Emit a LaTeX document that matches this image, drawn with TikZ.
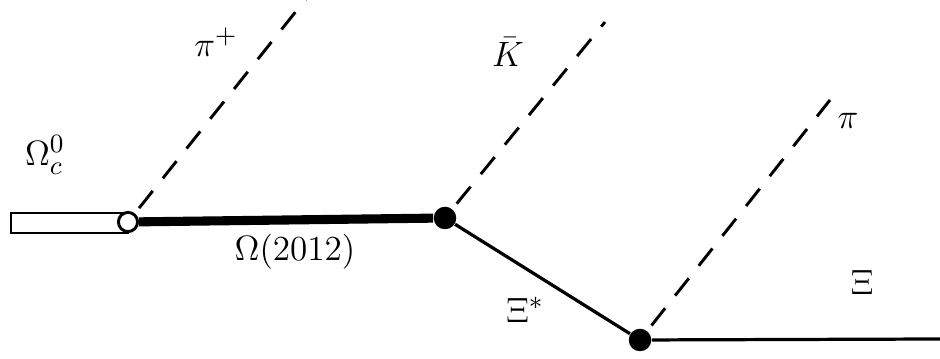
\documentclass[tikz,border=0pt]{standalone}
\usetikzlibrary{positioning}
\tikzset{
  vertex/.style={circle,fill=black,inner sep=0pt,minimum size=0.27cm},
  hollow/.style={circle,draw=black,fill=white,line width=1pt,inner sep=0pt,minimum size=0.23cm},
  heavy/.style={line width=3.1pt},
  prop/.style={line width=1.1pt},
  scalar/.style={line width=1pt,dash pattern=on 7.5pt off 5.5pt,shorten <=0.08cm}
}
\begin{document}
\begin{tikzpicture}[x=0.012cm,y=-0.012cm,font=\fontsize{12.5}{15}\selectfont]
  \useasboundingbox (0,0) rectangle (940,359);
  % charmed baryon line
  \draw[line width=1pt] (11,213) rectangle (128,233);
  % vertices
  \node[hollow] (vc) at (128,222) {};
  \node[vertex] (vk) at (445,218) {};
  \node[vertex] (vp) at (640,340) {};
  \coordinate (pip) at (309,-5);
  \coordinate (kb) at (605,22);
  \coordinate (pi) at (830,100);
  \coordinate (xe) at (940,339);
  % propagators
  \draw[heavy] (vc) -- (vk);
  \draw[prop] (vk) -- (vp);
  \draw[prop] (vp) -- (xe);
  \draw[scalar] (vc) -- (pip);
  \draw[scalar] (vk) -- (kb);
  \draw[scalar] (vp) -- (pi);
  % labels
  \node (lomc) at (45,155) {$\Omega_c^0$};
  \node (lpip) at (216,42) {$\pi^+$};
  \node (lkb) at (508,52) {$\bar K$};
  \node (lpi) at (848,121) {$\pi$};
  \node (lom) at (295,252) {$\Omega(2012)$};
  \node (lxs) at (525,310) {$\Xi^*$};
  \node (lxi) at (862,282) {$\Xi$};
\end{tikzpicture}
\end{document}
